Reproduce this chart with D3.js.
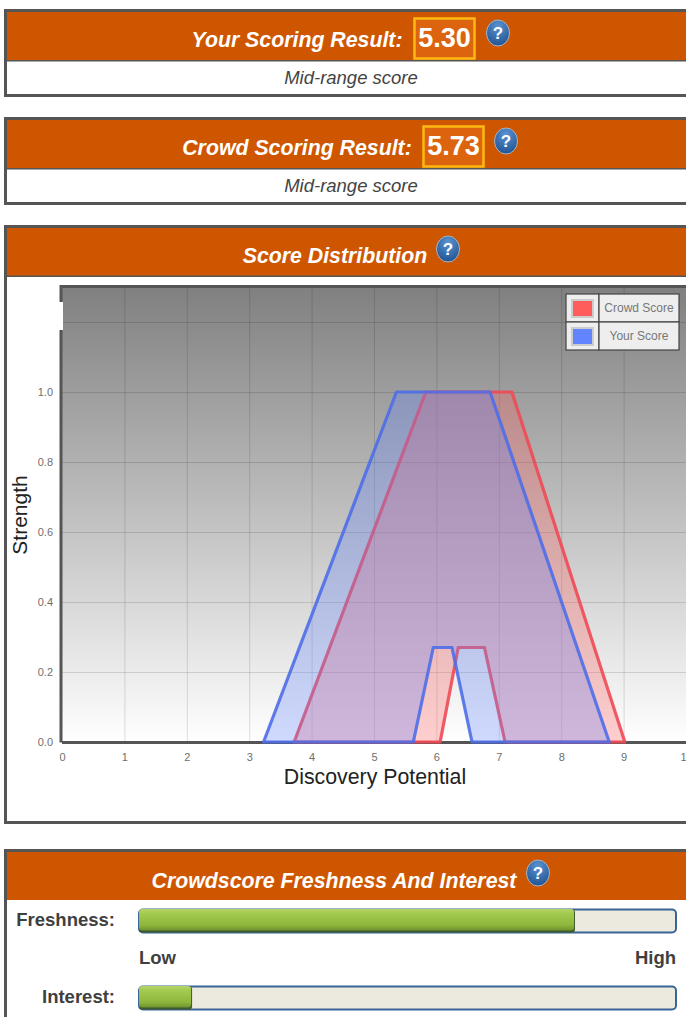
<!DOCTYPE html>
<html>
<head>
<meta charset="utf-8">
<script src="https://cdn.jsdelivr.net/npm/d3@7"></script>
<style>
  html, body { margin: 0; padding: 0; background: #fff; overflow: hidden; }
  svg { display: block; font-family: "Liberation Sans", Arial, sans-serif; }
</style>
</head>
<body>
<svg id="page" width="686" height="1017"></svg>
<script>
// values
const xTicks = [0, 1, 2, 3, 4, 5, 6, 7, 8, 9, 10];
const yTicks = [0, 0.2, 0.4, 0.6, 0.8, 1.0];
const yGrid = [0.2, 0.4, 0.6, 0.8, 1.0, 1.2];

const crowdX = [3.72, 5.83, 7.21, 9.02, 7.10, 6.77, 6.35, 6.06, 3.72];
const crowdY = [0, 1, 1, 0, 0, 0.27, 0.27, 0, 0];
const yourX = [3.23, 5.36, 6.86, 8.77, 6.57, 6.25, 5.95, 5.63, 3.23];
const yourY = [0, 1, 1, 0, 0, 0.27, 0.27, 0, 0];

const legendNames = ["Crowd Score", "Your Score"];
const legendColors = ["#ff5c5c", "#6285ff"];

const barNames = ["Freshness:", "Interest:"];
const barValues = [0.81, 0.097];

const svg = d3.select("#page");
const defs = svg.append("defs");

const ORANGE = "#cf5600";
const BORDER = "#555";

function vGrad(id, stops) {
  const g = defs.append("linearGradient").attr("id", id)
    .attr("x1", 0).attr("x2", 0).attr("y1", 0).attr("y2", 1);
  stops.forEach(s => g.append("stop").attr("offset", s[0]).attr("stop-color", s[1]));
}
vGrad("plotBg", [[0, "#808080"], [1, "#ffffff"]]);
vGrad("barFill", [[0, "#b5d467"], [0.2, "#a3cb50"], [0.75, "#8fb63c"], [1, "#6f9330"]]);

const ball = defs.append("radialGradient").attr("id", "helpBall")
  .attr("cx", 0.5).attr("cy", 0.25).attr("r", 0.8);
ball.append("stop").attr("offset", 0).attr("stop-color", "#5b93d3");
ball.append("stop").attr("offset", 1).attr("stop-color", "#1d4f8e");

function helpIcon(cx, cy) {
  svg.append("ellipse").attr("cx", cx).attr("cy", cy).attr("rx", 11.5).attr("ry", 13)
    .attr("fill", "url(#helpBall)").attr("stroke", "#a9b4bd").attr("stroke-width", 1);
  svg.append("text").attr("x", cx).attr("y", cy + 6).attr("text-anchor", "middle")
    .attr("font-size", 17).attr("font-weight", "bold").attr("fill", "#fff").text("?");
}

function panel(top, bottom, headerBottom) {
  svg.append("rect").attr("x", 5.5).attr("y", top + 1.5)
    .attr("width", 700).attr("height", bottom - top - 3)
    .attr("fill", "#fff").attr("stroke", BORDER).attr("stroke-width", 3);
  svg.append("rect").attr("x", 7).attr("y", top + 3)
    .attr("width", 690).attr("height", headerBottom - top - 3).attr("fill", ORANGE);
}

function heading(label, x, y) {
  svg.append("text").attr("x", x).attr("y", y).attr("text-anchor", "middle")
    .attr("font-size", 21.3).attr("font-style", "italic").attr("font-weight", "bold")
    .attr("fill", "#fff").text(label);
}

function scorePanel(top, label, labelX, score, boxX, helpX) {
  panel(top, top + 88, top + 51);
  svg.append("rect").attr("x", 7).attr("y", top + 51).attr("width", 690).attr("height", 1.5).attr("fill", BORDER);
  heading(label, labelX, top + 38);
  svg.append("rect").attr("x", boxX).attr("y", top + 9.5).attr("width", 60).attr("height", 40)
    .attr("fill", "#dd640f").attr("stroke", "#fdb913").attr("stroke-width", 2.5);
  svg.append("text").attr("x", boxX + 30).attr("y", top + 38).attr("text-anchor", "middle")
    .attr("font-size", 27).attr("font-weight", "bold").attr("fill", "#fff").text(score);
  helpIcon(helpX, top + 24);
  svg.append("text").attr("x", 351).attr("y", top + 75).attr("text-anchor", "middle")
    .attr("font-size", 18.5).attr("font-style", "italic").attr("fill", "#444").text("Mid-range score");
}

scorePanel(9, "Your Scoring Result:", 297, "5.30", 414.5, 498);
scorePanel(117, "Crowd Scoring Result:", 297, "5.73", 423.5, 506);

// score distribution panel
panel(225, 824, 276);
svg.append("rect").attr("x", 7).attr("y", 275.5).attr("width", 690).attr("height", 1.5).attr("fill", BORDER);
heading("Score Distribution", 335, 263);
helpIcon(448, 249);

const x = d3.scaleLinear().domain([0, 10]).range([62, 686]);
const y = d3.scaleLinear().domain([0, 1.3]).range([742, 287]);

svg.append("rect").attr("x", x(0)).attr("y", y(1.3))
  .attr("width", x(10) - x(0)).attr("height", y(0) - y(1.3)).attr("fill", "url(#plotBg)");

// grid lines come from the axes, long ticks and no labels
const gridX = svg.append("g").attr("transform", `translate(0,${y(0)})`)
  .call(d3.axisBottom(x).tickValues(xTicks.slice(1, 10)).tickSize(y(1.3) - y(0)).tickFormat(""));
const gridY = svg.append("g").attr("transform", `translate(${x(0)},0)`)
  .call(d3.axisLeft(y).tickValues(yGrid).tickSize(x(0) - x(10)).tickFormat(""));
[gridX, gridY].forEach(g => {
  g.select(".domain").remove();
  g.selectAll("line").attr("stroke", "#000").attr("stroke-opacity", 0.13).attr("stroke-width", 1);
});

const line = d3.line().x(d => x(d[0])).y(d => y(d[1]));
function polygon(xs, ys, color, stroke) {
  svg.append("path").attr("d", line(d3.zip(xs, ys)) + "Z")
    .attr("fill", color).attr("fill-opacity", 0.3)
    .attr("stroke", stroke).attr("stroke-width", 3.2).attr("stroke-linejoin", "round")
    .attr("stroke-opacity", 0.9);
}

// plot frame
svg.append("path").attr("fill", "none").attr("stroke", BORDER).attr("stroke-width", 3)
  .attr("d", `M${x(0) - 1},${y(0) + 0.5}V${y(1.3) - 0.5}H686`);
svg.append("line").attr("x1", x(0)).attr("x2", 686).attr("y1", y(0) + 0.5).attr("y2", y(0) + 0.5)
  .attr("stroke", BORDER).attr("stroke-width", 3);
svg.append("rect").attr("x", 59).attr("y", 302).attr("width", 4).attr("height", 28).attr("fill", "#fff");

polygon(crowdX, crowdY, "#ff5c5c", "#ee4a55");
polygon(yourX, yourY, "#6285ff", "#4f6ee8");

const xAxis = svg.append("g").attr("transform", `translate(0,${y(0) + 2})`)
  .call(d3.axisBottom(x).tickValues(xTicks).tickSize(0).tickPadding(9).tickFormat(d3.format("d")));
const yAxis = svg.append("g").attr("transform", `translate(${x(0) - 2},0)`)
  .call(d3.axisLeft(y).tickValues(yTicks).tickSize(0).tickPadding(7).tickFormat(d3.format(".1f")));
[xAxis, yAxis].forEach(g => {
  g.select(".domain").remove();
  g.selectAll("text").attr("fill", "#6e6e6e").attr("font-size", 11)
    .attr("font-family", "\"Liberation Sans\", Arial, sans-serif");
});

svg.append("text").attr("x", 375).attr("y", 784).attr("text-anchor", "middle")
  .attr("font-size", 21.3).attr("fill", "#222").text("Discovery Potential");
svg.append("text").attr("transform", "translate(27,515) rotate(-90)").attr("text-anchor", "middle")
  .attr("font-size", 21).attr("fill", "#222").text("Strength");

// legend table
const legend = svg.append("g").selectAll("g").data(legendNames).join("g")
  .attr("transform", (d, i) => `translate(566,${294 + i * 28})`);
legend.append("rect").attr("width", 33).attr("height", 28)
  .attr("fill", "#eee").attr("stroke", "#444").attr("stroke-width", 1.2);
legend.append("rect").attr("x", 33).attr("width", 80).attr("height", 28)
  .attr("fill", "#eee").attr("stroke", "#444").attr("stroke-width", 1.2);
legend.append("rect").attr("x", 6).attr("y", 6).attr("width", 21).attr("height", 17)
  .attr("fill", (d, i) => legendColors[i]).attr("stroke", "#ccc").attr("stroke-width", 2);
legend.append("text").attr("x", 73).attr("y", 18).attr("text-anchor", "middle")
  .attr("font-size", 12).attr("fill", "#777").text(d => d);

// freshness panel
panel(849, 1060, 900);
heading("Crowdscore Freshness And Interest", 334, 888);
helpIcon(538, 873);

const bar = d3.scaleLinear().domain([0, 1]).range([139, 676]);
const barY = d3.scalePoint().domain(barNames).range([909, 986]);

const rows = svg.append("g").selectAll("g").data(barNames).join("g")
  .attr("transform", d => `translate(0,${barY(d)})`);
rows.append("text").attr("x", 115).attr("y", 17).attr("text-anchor", "end")
  .attr("font-size", 18.5).attr("font-weight", "bold").attr("fill", "#3f3f3f").text(d => d);
rows.append("rect").attr("x", bar(0)).attr("y", 0.5)
  .attr("width", bar(1) - bar(0)).attr("height", 23).attr("rx", 4)
  .attr("fill", "#ece9df").attr("stroke", "#3a6496").attr("stroke-width", 2);
// dark edge under the green fill
rows.append("rect").attr("x", bar(0)).attr("y", 0.5)
  .attr("width", (d, i) => bar(barValues[i]) - bar(0) + 1).attr("height", 23).attr("rx", 3)
  .attr("fill", "#3f5a2c");
rows.append("rect").attr("x", bar(0)).attr("y", 0)
  .attr("width", (d, i) => bar(barValues[i]) - bar(0)).attr("height", 21.5).attr("rx", 3)
  .attr("fill", "url(#barFill)");

svg.append("text").attr("x", 139).attr("y", 964).attr("font-size", 18.5)
  .attr("font-weight", "bold").attr("fill", "#3f3f3f").text("Low");
svg.append("text").attr("x", 676).attr("y", 964).attr("text-anchor", "end").attr("font-size", 18.5)
  .attr("font-weight", "bold").attr("fill", "#3f3f3f").text("High");
</script>
</body>
</html>
